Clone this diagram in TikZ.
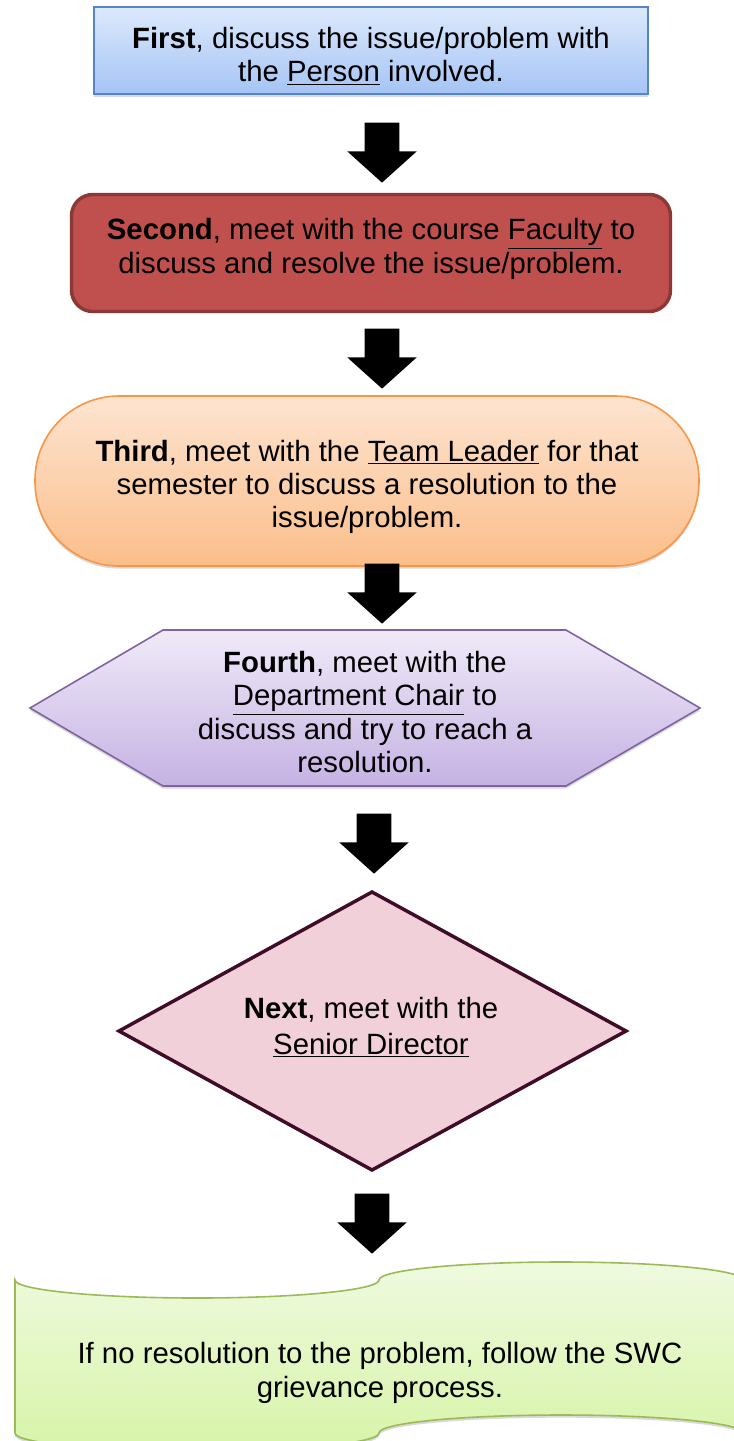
\documentclass[tikz,border=0pt]{standalone}
\usepackage{fontspec}
\setmainfont{Liberation Sans}
\usetikzlibrary{shapes.arrows,shadows}

\definecolor{blueTop}{HTML}{DCE9FC}
\definecolor{blueBot}{HTML}{A5C4F5}
\definecolor{blueLine}{HTML}{5585C8}
\definecolor{redFill}{HTML}{C0504D}
\definecolor{redLine}{HTML}{8C3836}
\definecolor{orangeTop}{HTML}{FDE4D0}
\definecolor{orangeBot}{HTML}{FBBE8A}
\definecolor{orangeLine}{HTML}{F79646}
\definecolor{lavTop}{HTML}{F0EAF8}
\definecolor{lavBot}{HTML}{C5B2E3}
\definecolor{lavLine}{HTML}{8064A2}
\definecolor{pinkFill}{HTML}{F2D0D9}
\definecolor{pinkLine}{HTML}{3F0D28}
\definecolor{greenTop}{HTML}{EFFADF}
\definecolor{greenBot}{HTML}{D7F4A8}
\definecolor{greenLine}{HTML}{9BBB59}

\begin{document}
\begin{tikzpicture}[x=0.75pt,y=0.75pt,yscale=-1,xscale=1,
	steptext/.style={inner sep=0.75pt, align=center, font=\fontsize{22}{25}\selectfont},
	blockarrow/.style={single arrow, fill=black, draw=none, rotate=-90, minimum height=45pt, minimum width=51.75pt, single arrow head extend=13.1pt, single arrow tip angle=96, inner xsep=0pt, inner ysep=12.75pt, anchor=tip},
	softshadow/.style={drop shadow={shadow xshift=0pt, shadow yshift=-2pt, opacity=0.3}}]
			\useasboundingbox (0,0) rectangle (734,1441);
			
			%Rechteck blau
			\draw [draw=blueLine, line width=1.1pt, top color=blueTop, bottom color=blueBot, softshadow] (94,7) rectangle (648,94);
			%Rechteck rot
			\draw [draw=redLine, line width=2.6pt, fill=redFill, rounded corners=16pt] (71.5,194.5) rectangle (670.5,311.5);
			%Oval
			\draw [draw=orangeLine, line width=1.2pt, top color=orangeTop, bottom color=orangeBot, rounded corners=63pt, softshadow] (35,396) rectangle (699,566);
			%Sechseck
			\draw [draw=lavLine, line width=1.2pt, top color=lavTop, bottom color=lavBot, softshadow] (30,708) -- (163,630) -- (566,630) -- (700,708) -- (566,786) -- (163,786) -- cycle;
			%Raute
			\draw [draw=pinkLine, line width=2.6pt, fill=pinkFill] (372,892) -- (626,1031) -- (372,1170) -- (119,1031) -- cycle;
			%Lochstreifen
			\draw [draw=greenLine, line width=1.2pt, top color=greenTop, bottom color=greenBot, softshadow] (15,1280) arc[start angle=180, end angle=0, x radius=182, y radius=18] arc[start angle=180, end angle=360, x radius=182, y radius=18] -- (743,1433) arc[start angle=0, end angle=-180, x radius=182, y radius=18] arc[start angle=0, end angle=180, x radius=182, y radius=18] -- cycle;
			
			%Pfeile
			\node [blockarrow] (arr1) at (382,183) {};
			\node [blockarrow] (arr2) at (382,389) {};
			\node [blockarrow] (arr3) at (382,624) {};
			\node [blockarrow] (arr4) at (374,874) {};
			\node [blockarrow] (arr5) at (372,1254) {};
			
			% First
			\node [steptext] (first) at (371,56) {\textbf{First}, discuss the issue/problem with\\the \underline{Person} involved.};
			% Second
			\node [steptext] (second) at (371,249) {\textbf{Second}, meet with the course \underline{Faculty} to\\discuss and resolve the issue/problem.};
			% Third
			\node [steptext] (third) at (367,487) {\textbf{Third}, meet with the \underline{Team Leader} for that\\semester to discuss a resolution to the\\issue/problem.};
			% Fourth
			\node [steptext] (fourth) at (365,712) {\textbf{Fourth}, meet with the\\\underline{Department Chair} to\\discuss and try to reach a\\resolution.};
			% Next
			\node [steptext, font=\fontsize{22}{27}\selectfont] (next) at (371,1027) {\textbf{Next}, meet with the\\\underline{Senior Director}};
			% Grievance
			\node [steptext] (grievance) at (380,1373) {If no resolution to the problem, follow the SWC\\grievance process.};
			
		\end{tikzpicture}
\end{document}
